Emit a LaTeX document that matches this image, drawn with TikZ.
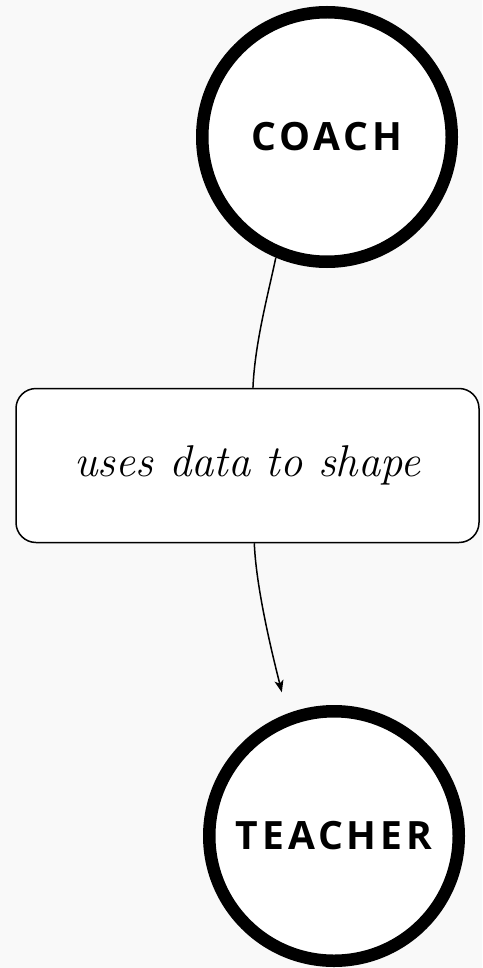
\documentclass[tikz,border=0pt]{standalone}
\usepackage{fontspec}
\newfontfamily\rolefont[LetterSpace=10]{Open Sans}
\usetikzlibrary{arrows.meta}
\definecolor{bgc}{HTML}{F9F9F9}
\tikzset{
  role/.style={circle, draw=black, fill=white, line width=12.5pt, minimum size=249.5pt, inner sep=0pt,
    font=\rolefont\bfseries\fontsize{39}{44}\selectfont},
  lblbox/.style={draw=black, fill=white, line width=1.5pt, rounded corners=20pt,
    minimum width=463pt, minimum height=154pt, inner sep=0pt,
    font=\itshape\fontsize{44.5}{50}\selectfont},
  conn/.style={line width=1.5pt, draw=black},
  tip/.style={-{Stealth[length=12pt,width=9pt,inset=3pt]}}
}
\begin{document}
\begin{tikzpicture}[x=1pt,y=-1pt]
\fill[bgc] (0,0) rectangle (482,968);
\useasboundingbox (0,0) rectangle (482,968);
\node[role] (coach) at (327,137) {COACH};
\node[role] (teacher) at (334,836) {TEACHER};
\node[lblbox] (lbl) at (247.5,465.5) {uses data to shape};
\draw[conn] (coach.247.6) .. controls ++(-8,38) and ++(2,-45) .. (lbl.86);
\draw[conn,tip,shorten >=22pt] (lbl.275.5) .. controls ++(2,50) and ++(-11,-45) .. (teacher.111.5);
\end{tikzpicture}
\end{document}
